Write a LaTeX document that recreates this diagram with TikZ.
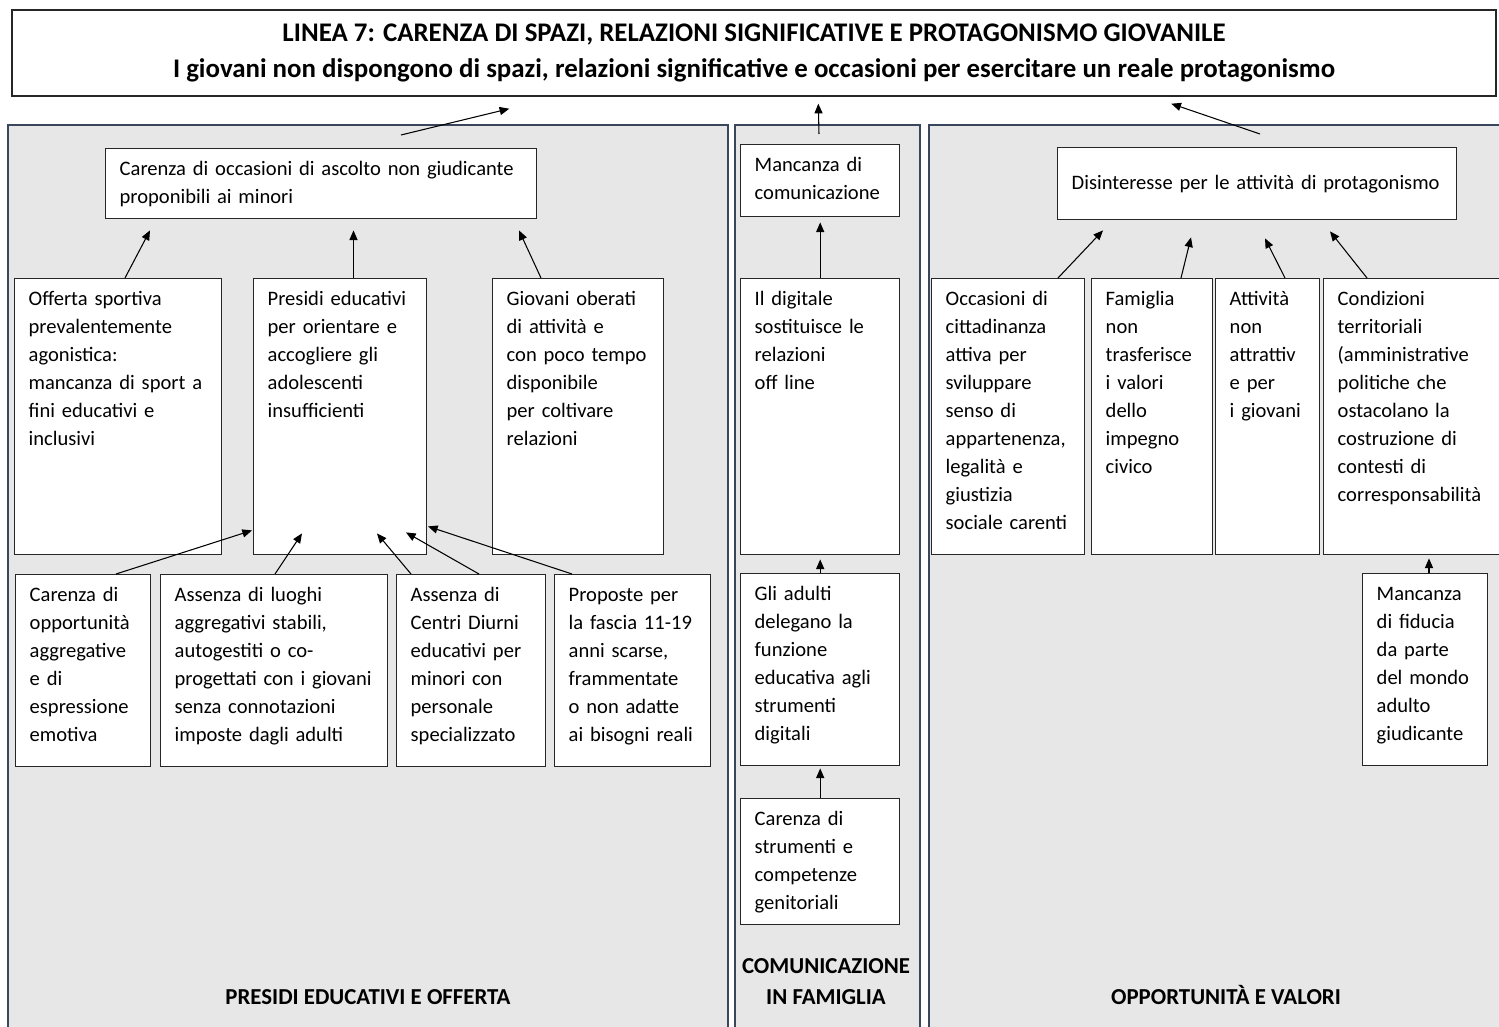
\documentclass[tikz,border=0pt]{standalone}
\usepackage{fontspec}
\setmainfont{Carlito}
\usetikzlibrary{arrows.meta}
\newlength{\unitpx}
\setlength{\unitpx}{0.02cm}
\definecolor{panelgray}{RGB}{231,231,231}
\definecolor{panelline}{RGB}{58,70,92}
\tikzset{
  cell/.style 2 args={draw=black!85, line width=0.8pt, fill=white, anchor=north west, align=left,
    font=\fontsize{11.7}{15.9}\selectfont, inner xsep=14\unitpx, inner ysep=0pt,
    text width=#1\unitpx, text height=27\unitpx, text depth=#2\unitpx},
  panel/.style 2 args={draw=panelline, line width=1.2pt, fill=panelgray, anchor=north west,
    inner sep=0pt, minimum width=#1\unitpx, minimum height=#2\unitpx},
  arr/.style={-{Triangle[length=5.5pt,width=4.6pt]}, line width=0.6pt},
  lbl/.style={font=\fontsize{13}{17.6}\selectfont\bfseries, align=center, anchor=base}
}
\begin{document}
\begin{tikzpicture}[x=0.02cm, y=-0.02cm]
\useasboundingbox (0,0) rectangle (1499,1027);
\clip (0,0) rectangle (1499,1027);
\node[draw=black!85, line width=0.8pt, minimum width=1484\unitpx, minimum height=86\unitpx, align=center,
  font=\fontsize{15.3}{20.4}\selectfont\bfseries] (title) at (754,53)
  {LINEA 7: CARENZA DI SPAZI, RELAZIONI SIGNIFICATIVE E PROTAGONISMO GIOVANILE\\
   I giovani non dispongono di spazi, relazioni significative e occasioni per esercitare un reale protagonismo};
\node[panel={720}{950}] (presidiPanel) at (7,124) {};
\node[panel={185}{950}] (famPanel) at (734,124) {};
\node[panel={620}{950}] (oppPanel) at (928,124) {};

\node[cell={403}{43}] (ascolto) at (105,148) {Carenza di occasioni di ascolto non giudicante\\proponibili ai minori};
\node[cell={179}{249}] (offerta) at (14,278) {Offerta sportiva\\prevalentemente\\agonistica:\\mancanza di sport a\\fini educativi e\\inclusivi};
\node[cell={145}{249}] (presidi) at (253,278) {Presidi educativi\\per orientare e\\accogliere gli\\adolescenti\\insufficienti};
\node[cell={143}{249}] (oberati) at (492,278) {Giovani oberati\\di attività e\\con poco tempo\\disponibile\\per coltivare\\relazioni};
\node[cell={107}{165}] (aggregative) at (15,574) {Carenza di\\opportunità\\aggregative\\e di\\espressione\\emotiva};
\node[cell={199}{165}] (luoghi) at (160,574) {Assenza di luoghi\\aggregativi stabili,\\autogestiti o co-\\progettati con i giovani\\senza connotazioni\\imposte dagli adulti};
\node[cell={121}{165}] (centri) at (396,574) {Assenza di\\Centri Diurni\\educativi per\\minori con\\personale\\specializzato};
\node[cell={128}{165}] (proposte) at (554,574) {Proposte per\\la fascia 11-19\\anni scarse,\\frammentate\\o non adatte\\ai bisogni reali};

\node[cell={131}{45}] (comunicazione) at (740,144) {Mancanza di\\comunicazione};
\node[cell={131}{249}] (digitale) at (740,278) {Il digitale\\sostituisce le\\relazioni\\off line};
\node[cell={131}{165}] (adulti) at (740,573) {Gli adulti\\delegano la\\funzione\\educativa agli\\strumenti\\digitali};
\node[cell={131}{99}] (genitoriali) at (740,798) {Carenza di\\strumenti e\\competenze\\genitoriali};

\node[cell={371}{30}, text height=42\unitpx] (disinteresse) at (1057,147) {Disinteresse per le attività di protagonismo};
\node[cell={125}{249}] (cittadinanza) at (931,278) {Occasioni di\\cittadinanza\\attiva per\\sviluppare\\senso di\\appartenenza,\\legalità e\\giustizia\\sociale carenti};
\node[cell={93}{249}] (famiglia) at (1091,278) {Famiglia\\non\\trasferisce\\i valori\\dello\\impegno\\civico};
\node[cell={76}{249}] (attivita) at (1215,278) {Attività\\non\\attrattiv\\e per\\i giovani};
\node[cell={172}{249}] (condizioni) at (1323,278) {Condizioni\\territoriali\\(amministrative\\politiche che\\ostacolano la\\costruzione di\\contesti di\\corresponsabilità};
\node[cell={97}{165}] (fiducia) at (1362,573) {Mancanza\\di fiducia\\da parte\\del mondo\\adulto\\giudicante};

\node[lbl] (lblPresidi) at (368,1004) {PRESIDI EDUCATIVI E OFFERTA};
\node[lbl] (lblFamiglia) at (826,1004) {COMUNICAZIONE\\IN FAMIGLIA};
\node[lbl] (lblValori) at (1226,1004) {OPPORTUNITÀ E VALORI};

\draw[arr] ([shift={(394,11)}]presidiPanel.north west) -- ([shift={(498,12)}]title.south west);
\draw[arr] ([shift={(85,10)}]famPanel.north west) -- ([shift={(807,7)}]title.south west);
\draw[arr] ([shift={(332,10)}]oppPanel.north west) -- ([shift={(1160,7)}]title.south west);

\draw[arr] ([shift={(111,0)}]offerta.north west) -- ([shift={(45,11)}]ascolto.south west);
\draw[arr] ([shift={(100.5,0)}]presidi.north west) -- ([shift={(248.5,11)}]ascolto.south west);
\draw[arr] ([shift={(49,0)}]oberati.north west) -- ([shift={(414,11)}]ascolto.south west);
\draw[arr] ([shift={(101,0)}]aggregative.north west) -- ([shift={(-1,-25)}]presidi.south west);
\draw[arr] ([shift={(115,0)}]luoghi.north west) -- ([shift={(49,-22)}]presidi.south west);
\draw[arr] ([shift={(15,0)}]centri.north west) -- ([shift={(124,-22)}]presidi.south west);
\draw[arr] ([shift={(83,0)}]centri.north west) -- ([shift={(153,-23)}]presidi.south west);
\draw[arr] ([shift={(18,0)}]proposte.north west) -- ([shift={(175,-29)}]presidi.south west);

\draw[arr, shorten >=5\unitpx] (digitale.north) -- (comunicazione.south);
\draw[arr, shorten >=4\unitpx] (adulti.north) -- (digitale.south);
\draw[arr, shorten >=2\unitpx] (genitoriali.north) -- (adulti.south);

\draw[arr] ([shift={(127,0)}]cittadinanza.north west) -- ([shift={(46,10)}]disinteresse.south west);
\draw[arr] ([shift={(90,0)}]famiglia.north west) -- ([shift={(134,17)}]disinteresse.south west);
\draw[arr] ([shift={(70,0)}]attivita.north west) -- ([shift={(208,18)}]disinteresse.south west);
\draw[arr] ([shift={(44,0)}]condizioni.north west) -- ([shift={(273,11)}]disinteresse.south west);
\draw[arr] ([shift={(67,0)}]fiducia.north west) -- ([shift={(106,3)}]condizioni.south west);
\end{tikzpicture}
\end{document}
